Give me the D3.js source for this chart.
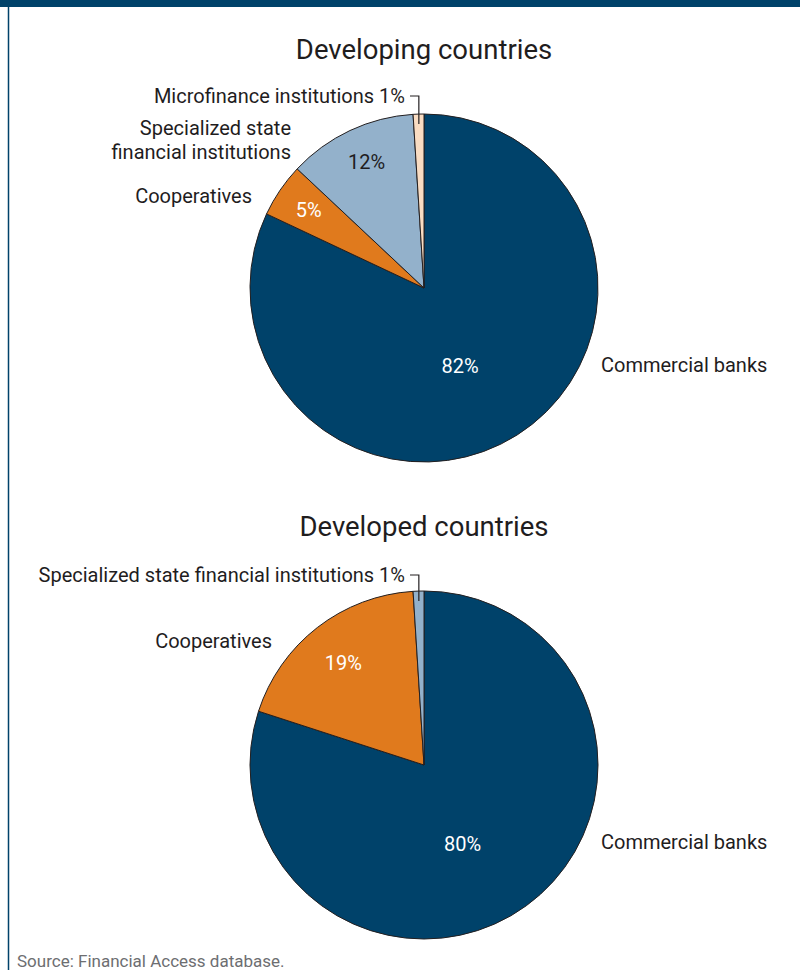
<!DOCTYPE html>
<html>
<head>
<meta charset="utf-8">
<script src="https://cdn.jsdelivr.net/npm/d3@7"></script>
<style>
  body { margin: 0; background: #fff; }
  text { font-family: Roboto, "Noto Sans", sans-serif; fill: #1f1d1e; }
</style>
</head>
<body>
<div id="chart"></div>
<script>
// chart data
const titles = ["Developing countries", "Developed countries"];
const developingLabels = ["Commercial banks", "Cooperatives", "Specialized state financial institutions", "Microfinance institutions"];
const developingValues = [82, 5, 12, 1];
const developedLabels = ["Commercial banks", "Cooperatives", "Specialized state financial institutions"];
const developedValues = [80, 19, 1];
const sourceNote = "Source: Financial Access database.";

const width = 800, height = 970;
const radius = 174;

const color = d3.scaleOrdinal()
  .domain(["Commercial banks", "Cooperatives", "Specialized state financial institutions", "Microfinance institutions"])
  .range(["#00426a", "#e07a1d", "#93b1cb", "#f9dcc2"]);

const svg = d3.select("#chart")
  .append("svg")
  .attr("width", width)
  .attr("height", height);

// top bar and left rule
svg.append("rect").attr("x", 0).attr("y", 0).attr("width", width).attr("height", 7).attr("fill", "#00426a");
svg.append("line").attr("x1", 8.5).attr("x2", 8.5).attr("y1", 7).attr("y2", height).attr("stroke", "#00426a").attr("stroke-width", 1.5);

const pie = d3.pie().sort(null).value(d => d.value);
const arc = d3.arc().innerRadius(0).outerRadius(radius);

function drawPie(cy, title, labels, values, opts) {
  const data = labels.map((l, i) => ({ label: l, value: values[i] }));
  const g = svg.append("g").attr("transform", `translate(424,${cy})`);

  svg.append("text")
    .attr("x", 424).attr("y", cy - 229)
    .attr("text-anchor", "middle")
    .attr("font-size", 27.5)
    .text(title);

  const arcs = pie(data);
  g.selectAll("path")
    .data(arcs)
    .enter()
    .append("path")
      .attr("d", arc)
      .attr("fill", d => color(d.data.label))
      .attr("stroke", "#231f20")
      .attr("stroke-width", 1);

  // percentage labels inside slices
  arcs.forEach((d, i) => {
    const p = opts.inside[i];
    if (!p) return;
    const lab = d3.arc().innerRadius(p.r).outerRadius(p.r);
    const [x, y] = lab.centroid(d);
    g.append("text")
      .attr("x", x + (p.nx || 0)).attr("y", y + (p.ny || 0))
      .attr("text-anchor", "middle")
      .attr("dy", "0.35em")
      .attr("font-size", 20)
      .style("fill", p.dark ? "#1f1d1e" : "#fff")
      .text(d.data.value + "%");
  });

  // category labels outside
  opts.outside.forEach(o => {
    const t = svg.append("text")
      .attr("x", o.x).attr("y", cy + o.dy)
      .attr("text-anchor", o.anchor)
      .attr("font-size", 20);
    o.lines.forEach((ln, j) => {
      t.append("tspan").attr("x", o.x).attr("dy", j === 0 ? 0 : 24).text(ln);
    });
  });

  // leader line for the tiny slice
  if (opts.tiny) {
    const d = arcs[arcs.length - 1];
    const mid = (d.startAngle + d.endAngle) / 2;
    const ex = Math.sin(mid) * (radius - 10);
    const ey = -Math.cos(mid) * (radius - 10);
    g.append("path")
      .attr("d", `M${opts.tiny.x - 424},${opts.tiny.dy} H${ex} V${ey}`)
      .attr("fill", "none")
      .attr("stroke", "#231f20")
      .attr("stroke-width", 1.2);
    svg.append("text")
      .attr("x", opts.tiny.x - 5).attr("y", cy + opts.tiny.dy)
      .attr("dy", "0.35em")
      .attr("text-anchor", "end")
      .attr("font-size", 20)
      .text(opts.tiny.text + " " + d.data.value + "%");
  }
}

drawPie(288, titles[0], developingLabels, developingValues, {
  inside: [{ r: 86, nx: -10, ny: 5 }, { r: 125, nx: -12, ny: -8 }, { r: 135, dark: true, ny: -4 }, null],
  outside: [
    { x: 601, dy: 84, anchor: "start", lines: ["Commercial banks"] },
    { x: 252, dy: -85, anchor: "end", lines: ["Cooperatives"] },
    { x: 291, dy: -153, anchor: "end", lines: ["Specialized state", "financial institutions"] }
  ],
  tiny: { x: 410, dy: -192, text: "Microfinance institutions" }
});

drawPie(765, titles[1], developedLabels, developedValues, {
  inside: [{ r: 86, nx: -12, ny: 9 }, { r: 125, nx: -4, ny: -3 }, null],
  outside: [
    { x: 601, dy: 84, anchor: "start", lines: ["Commercial banks"] },
    { x: 272, dy: -117, anchor: "end", lines: ["Cooperatives"] }
  ],
  tiny: { x: 410, dy: -190, text: "Specialized state financial institutions" }
});

svg.append("text")
  .attr("x", 17).attr("y", 967)
  .attr("font-size", 17)
  .style("fill", "#6d6e71")
  .text(sourceNote);
</script>
</body>
</html>
